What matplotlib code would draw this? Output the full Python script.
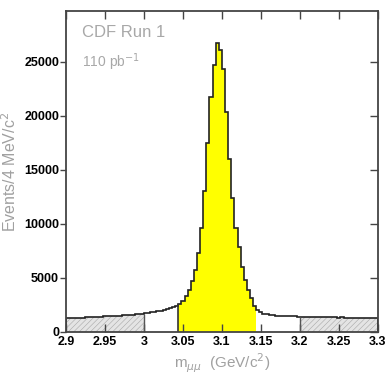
import numpy as np
import matplotlib
matplotlib.use("Agg")
import matplotlib.pyplot as plt

# ---- data (events per 4 MeV/c^2 bin) ----
bin_width = 0.004
m_lo, m_hi = 2.9, 3.3
sideband_left = [1280, 1300, 1290, 1310, 1330, 1320, 1350, 1370, 1360, 1390,
                 1420, 1400, 1460, 1470, 1460, 1490, 1520, 1510, 1550, 1570,
                 1580, 1610, 1630, 1670, 1700]                      # 2.900-3.000
shoulder_left = [1740, 1780, 1820, 1870, 1920, 1980, 2050, 2120, 2200, 2300,
                 2420]                                              # 3.000-3.044
signal = [2600, 2900, 3300, 3900, 4700, 5700, 7300, 9600, 13000, 17500,
          21700, 24700, 26700, 26100, 24300, 20400, 16000, 12400, 9600, 7900,
          6000, 4800, 3900, 3100, 2400]                             # 3.044-3.144
tail_right = [2000, 1820, 1700, 1630, 1580, 1550, 1520, 1500, 1490, 1470,
              1460, 1450, 1440, 1430]                               # 3.144-3.200
sideband_right = [1430, 1420, 1420, 1400, 1410, 1390, 1380, 1390, 1370, 1360,
                  1370, 1350, 1340, 1350, 1330, 1320, 1330, 1310, 1300, 1310,
                  1290, 1280, 1290, 1270, 1270]                     # 3.200-3.300

x_ticks = [2.9, 2.95, 3.0, 3.05, 3.1, 3.15, 3.2, 3.25, 3.3]
x_tick_labels = ["2.9", "2.95", "3", "3.05", "3.1", "3.15", "3.2", "3.25", "3.3"]
y_ticks = [0, 5000, 10000, 15000, 20000, 25000]
y_tick_labels = ["0", "5000", "10000", "15000", "20000", "25000"]

values = np.array(sideband_left + shoulder_left + signal + tail_right + sideband_right, float)
edges = np.round(m_lo + bin_width * np.arange(len(values) + 1), 6)

n_sl = len(sideband_left)
n_sh = len(shoulder_left)
n_sig = len(signal)
n_tr = len(tail_right)
i_sig0 = n_sl + n_sh
i_sig1 = i_sig0 + n_sig
i_sr0 = i_sig1 + n_tr

plt.rcParams['font.family'] = ['Liberation Sans', 'DejaVu Sans']
plt.rcParams['hatch.linewidth'] = 0.4
plt.rcParams['hatch.color'] = '#a8a8a8'

fig = plt.figure(figsize=(3.88, 3.74), dpi=100)
ax = fig.add_axes([0.170, 0.1123, 0.804, 0.8583])

# sidebands (hatched grey)
ax.stairs(values[:n_sl], edges[:n_sl + 1], fill=True, facecolor='#e4e4e4',
          hatch='//////', edgecolor='#a8a8a8', linewidth=0)
ax.stairs(values[i_sr0:], edges[i_sr0:], fill=True, facecolor='#e4e4e4',
          hatch='//////', edgecolor='#a8a8a8', linewidth=0)
ax.vlines([edges[n_sl], edges[i_sr0]], 0, [values[n_sl - 1], values[i_sr0]],
          color='#555555', linewidth=1.0)
# signal region (yellow)
ax.stairs(values[i_sig0:i_sig1], edges[i_sig0:i_sig1 + 1], fill=True,
          facecolor='#ffff00', linewidth=0)
ax.vlines([edges[i_sig0]], 0, [values[i_sig0]], color='#333333', linewidth=1.2)
# outline
ax.stairs(values, edges, color='#222222', linewidth=1.2)

ax.set_xlim(m_lo, m_hi)
ax.set_ylim(0, 29700)
ax.set_xticks(x_ticks)
ax.set_xticklabels(x_tick_labels, fontsize=9, fontweight='bold')
ax.set_yticks(y_ticks)
ax.set_yticklabels(y_tick_labels, fontsize=9, fontweight='bold')
ax.tick_params(axis='x', direction='in', length=6, width=1, top=True, pad=3, color='#444444')
ax.tick_params(axis='y', direction='out', length=4, width=1, pad=1, color='#444444')
ax.tick_params(axis='y', which='major', right=True)
for t in ax.yaxis.get_ticklines()[1::2]:
    t.set_marker(matplotlib.lines.TICKLEFT)
    t.set_markersize(6)
for s in ax.spines.values():
    s.set_color('#444444')
    s.set_linewidth(1.3)

ax.set_ylabel("Events/4 MeV/c$^2$", fontsize=11.5, color='#a0a0a0')
ax.yaxis.set_label_coords(-0.15, 0.5)
ax.set_xlabel(r"m$_{\mu\mu}$  (GeV/c$^2$)", fontsize=11, color='#a0a0a0')
ax.xaxis.set_label_coords(0.5, -0.062)
ax.text(0.05, 0.92, "CDF Run 1", transform=ax.transAxes, fontsize=12, color='#a8a8a8')
ax.text(0.05, 0.825, "110 pb$^{-1}$", transform=ax.transAxes, fontsize=10, color='#a8a8a8')

fig.savefig("out.png", dpi=100)
